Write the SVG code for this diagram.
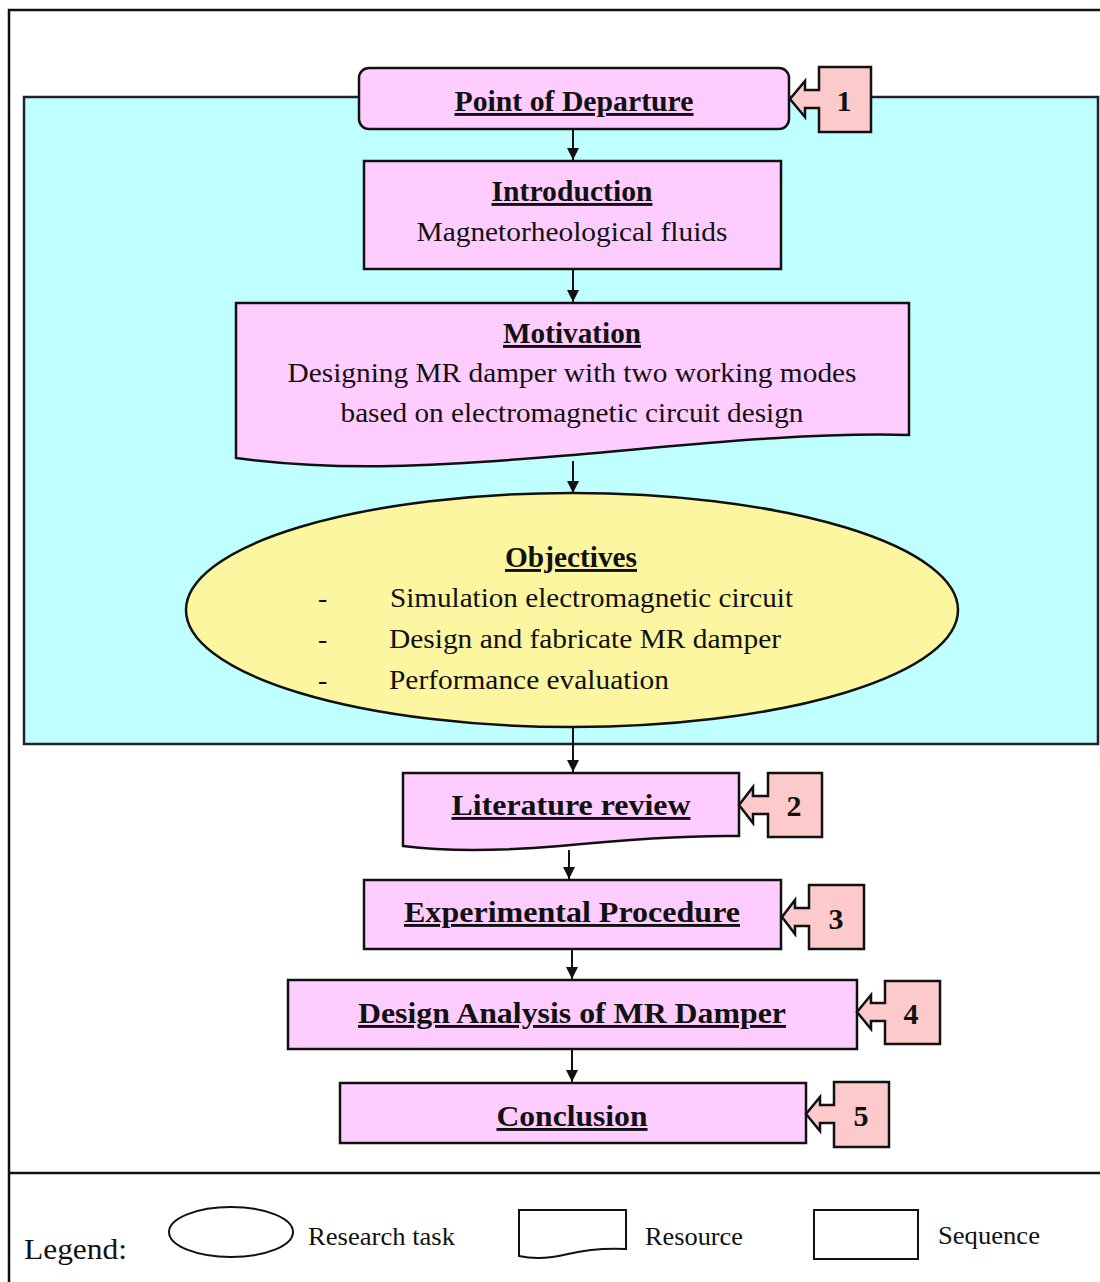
<svg xmlns="http://www.w3.org/2000/svg" width="1100" height="1282" viewBox="0 0 1100 1282">
<style>
text{font-family:"Liberation Serif","Times New Roman",serif;fill:#111}
.h{font-weight:bold;font-size:29px;text-decoration:underline}
.b{font-size:28px}
.n{font-weight:bold;font-size:30px}
.lg{font-size:26px}
.box{fill:#FFCCFF;stroke:#111;stroke-width:2.5}
.call{fill:#FCCACA;stroke:#111;stroke-width:2.5;stroke-linejoin:miter}
.con{stroke:#111;stroke-width:2;fill:none;marker-end:url(#ah)}
.leg{fill:#fff;stroke:#111;stroke-width:2}
</style>
<defs>
<marker id="ah" viewBox="0 0 10 10" refX="10" refY="5" markerWidth="6" markerHeight="6" orient="auto" markerUnits="strokeWidth">
<path d="M0,0 L10,5 L0,10 Z" fill="#111"/>
</marker>
</defs>
<rect width="1100" height="1282" fill="#fff"/>
<g id="frame" stroke="#111" stroke-width="2.5" fill="none">
<path d="M9,1282 V10 H1100"/>
<path d="M9,1173 H1100"/>
</g>
<rect id="scope" x="24" y="97" width="1074" height="647" fill="#C0FFFF" stroke="#222" stroke-width="2.5"/>
<g id="connectors">
<path class="con" d="M573,129 V160"/>
<path class="con" d="M573,269 V302"/>
<path class="con" d="M573,461 V493"/>
<path class="con" d="M573,727 V772"/>
<path class="con" d="M569,850 V879"/>
<path class="con" d="M572,949 V979"/>
<path class="con" d="M572,1049 V1082"/>
</g>
<g id="point-of-departure">
<rect class="box" x="359" y="68" width="430" height="61" rx="10"/>
<text class="h" x="574" y="111" text-anchor="middle" textLength="239" lengthAdjust="spacingAndGlyphs">Point of Departure</text>
</g>
<g id="callout-1">
<path class="call" d="M819,67 H871 V132 H819 V108 H805 V117 L790,99 L805,81 V90 H819 Z"/>
<text class="n" x="844" y="111" text-anchor="middle">1</text>
</g>
<g id="introduction">
<rect class="box" x="364" y="161" width="417" height="108"/>
<text class="h" x="572" y="201" text-anchor="middle" textLength="161" lengthAdjust="spacingAndGlyphs">Introduction</text>
<text class="b" x="572" y="241" text-anchor="middle" textLength="311" lengthAdjust="spacingAndGlyphs">Magnetorheological  fluids</text>
</g>
<g id="motivation">
<path class="box" d="M236,303 H909 V435 C800,432 680,446 560,456 C440,466 340,472 236,458 Z"/>
<text class="h" x="572" y="343" text-anchor="middle" textLength="138" lengthAdjust="spacingAndGlyphs">Motivation</text>
<text class="b" x="572" y="382" text-anchor="middle" textLength="569" lengthAdjust="spacingAndGlyphs">Designing MR damper with two working modes</text>
<text class="b" x="572" y="422" text-anchor="middle" textLength="463" lengthAdjust="spacingAndGlyphs">based on electromagnetic circuit design</text>
</g>
<g id="objectives">
<ellipse cx="572" cy="610" rx="386" ry="117" fill="#FDF6A0" stroke="#111" stroke-width="2.5"/>
<text class="h" x="571" y="567" text-anchor="middle" textLength="132" lengthAdjust="spacingAndGlyphs">Objectives</text>
<text class="b" x="318" y="607">-</text>
<text class="b" x="390" y="607" textLength="403" lengthAdjust="spacingAndGlyphs">Simulation electromagnetic circuit</text>
<text class="b" x="318" y="648">-</text>
<text class="b" x="389" y="648" textLength="392" lengthAdjust="spacingAndGlyphs">Design and fabricate MR damper</text>
<text class="b" x="318" y="689">-</text>
<text class="b" x="389" y="689" textLength="280" lengthAdjust="spacingAndGlyphs">Performance evaluation</text>
</g>
<g id="literature-review">
<path class="box" d="M403,773 H739 V836 C680,835 620,840 560,846 C500,851 450,852 403,846 Z"/>
<text class="h" x="571" y="815" text-anchor="middle" textLength="239" lengthAdjust="spacingAndGlyphs">Literature review</text>
</g>
<g id="callout-2">
<path class="call" d="M768,773 H822 V837 H768 V814 H753 V823 L739,805 L753,787 V796 H768 Z"/>
<text class="n" x="794" y="816" text-anchor="middle">2</text>
</g>
<g id="experimental-procedure">
<rect class="box" x="364" y="880" width="417" height="69"/>
<text class="h" x="572" y="922" text-anchor="middle" textLength="336" lengthAdjust="spacingAndGlyphs">Experimental Procedure</text>
</g>
<g id="callout-3">
<path class="call" d="M809,885 H864 V949 H809 V926 H795 V934 L782,917 L795,900 V908 H809 Z"/>
<text class="n" x="836" y="929" text-anchor="middle">3</text>
</g>
<g id="design-analysis">
<rect class="box" x="288" y="980" width="569" height="69"/>
<text class="h" x="572" y="1023" text-anchor="middle" textLength="428" lengthAdjust="spacingAndGlyphs">Design Analysis of MR Damper</text>
</g>
<g id="callout-4">
<path class="call" d="M885,981 H940 V1044 H885 V1021 H871 V1029 L857,1012 L871,995 V1003 H885 Z"/>
<text class="n" x="911" y="1024" text-anchor="middle">4</text>
</g>
<g id="conclusion">
<rect class="box" x="340" y="1083" width="466" height="60"/>
<text class="h" x="572" y="1126" text-anchor="middle" textLength="151" lengthAdjust="spacingAndGlyphs">Conclusion</text>
</g>
<g id="callout-5">
<path class="call" d="M834,1082 H889 V1147 H834 V1123 H820 V1131 L806,1114 L820,1097 V1105 H834 Z"/>
<text class="n" x="861" y="1126" text-anchor="middle">5</text>
</g>
<g id="legend">
<text x="24" y="1259" style="font-size:30px" textLength="103" lengthAdjust="spacingAndGlyphs">Legend:</text>
<ellipse class="leg" cx="231" cy="1232" rx="62" ry="25"/>
<text class="lg" x="308" y="1245" textLength="147" lengthAdjust="spacingAndGlyphs">Research task</text>
<path class="leg" d="M519,1210 H626 V1249 C605,1248 585,1250 568,1254 C548,1259 532,1259 519,1256 Z"/>
<text class="lg" x="645" y="1245" textLength="98" lengthAdjust="spacingAndGlyphs">Resource</text>
<rect class="leg" x="814" y="1210" width="104" height="49"/>
<text class="lg" x="938" y="1244" textLength="102" lengthAdjust="spacingAndGlyphs">Sequence</text>
</g>
</svg>
